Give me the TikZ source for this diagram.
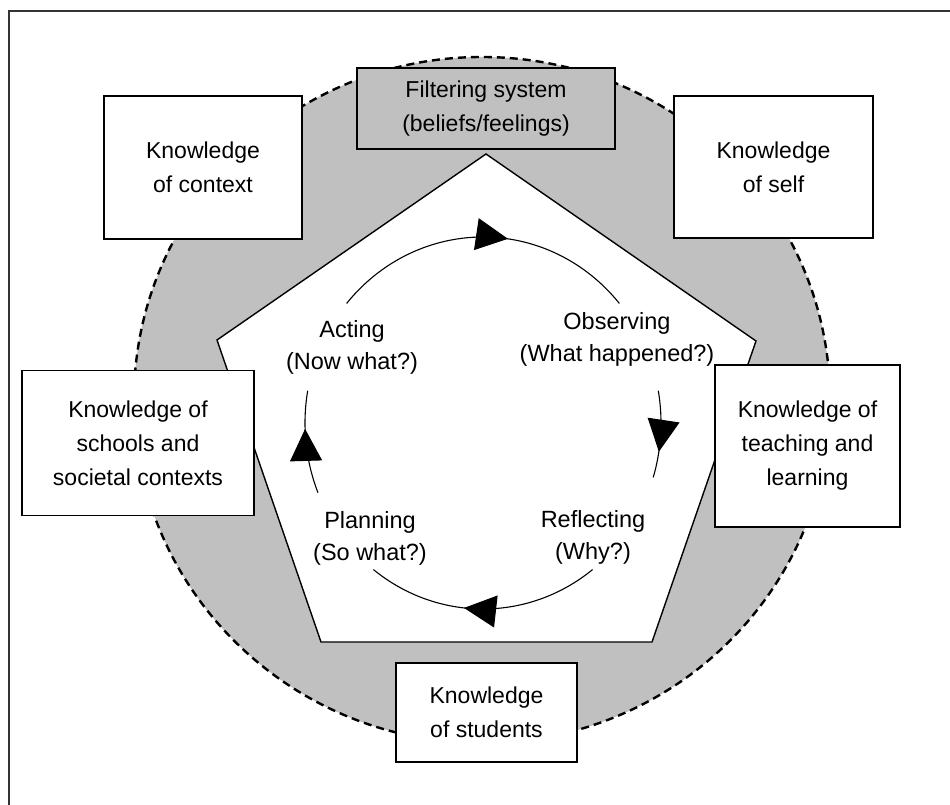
\documentclass[tikz,border=0pt]{standalone}
\usepackage{fontspec}
\setmainfont{Liberation Sans}
\usetikzlibrary{arrows.meta,decorations.markings}
\definecolor{fillgray}{RGB}{192,192,192}
\tikzset{
  kbox/.style={draw=black, line width=1.3pt, fill=white, align=center, inner sep=0pt,
    font=\fontsize{23}{34}\selectfont},
  cyclabel/.style={align=center, inner sep=0pt, font=\fontsize{23.5}{32}\selectfont},
  cycarc/.style={line width=1.1pt, postaction={decorate}},
  midarrow/.style={decoration={markings, mark=at position #1 with {\arrow{Triangle[length=32pt,width=32pt]}}}}
}
\begin{document}
\begin{tikzpicture}[x=1pt,y=1pt]
\useasboundingbox (0,0) rectangle (950,805);
% frame (left and top only, cropped)
\draw[black!80, line width=2pt] (9,0) -- (9,794) -- (950,794);
% gray dashed ellipse
\draw[fill=fillgray, line width=2.4pt, dash pattern=on 8pt off 5pt] (482,405) ellipse [x radius=348, y radius=343];
% pentagon
\draw[fill=white, line width=1.4pt, line join=miter] (486,651) -- (756,464) -- (652,163) -- (321,163) -- (217,465) -- cycle;
% boxes
\node[kbox, fill=fillgray, minimum width=258pt, minimum height=81pt] (filter) at (486,696.5) {Filtering system\\(beliefs/feelings)};
\node[kbox, minimum width=198pt, minimum height=143pt] (context) at (203,637.5) {Knowledge\\of context};
\node[kbox, minimum width=199pt, minimum height=142pt] (self) at (773.5,638) {Knowledge\\of self};
\node[kbox, minimum width=232pt, minimum height=145pt] (schools) at (138,362) {Knowledge of\\schools and\\societal contexts};
\node[kbox, minimum width=185pt, minimum height=162pt] (teaching) at (807.5,359) {Knowledge of\\teaching and\\learning};
\node[kbox, minimum width=181pt, minimum height=99pt] (students) at (486.5,92.5) {Knowledge\\of students};
% cycle labels
\node[cyclabel] (acting) at (352,458) {Acting\\(Now what?)};
\node[cyclabel] (observing) at (617,466) {Observing\\(What happened?)};
\node[cyclabel] (planning) at (370,267) {Planning\\(So what?)};
\node[cyclabel] (reflecting) at (593,268) {Reflecting\\(Why?)};
% cycle arcs
\coordinate (cc) at (483,382);
\tikzset{ell/.style={x radius=178, y radius=186}}
\draw[cycarc, midarrow=0.58] (cc) ++(140:178 and 186) arc[start angle=140, end angle=40, ell];
\draw[cycarc, midarrow=0.7] (cc) ++(10:178 and 186) arc[start angle=10, end angle=-17, ell];
\draw[cycarc, midarrow=0.58] (cc) ++(-52:178 and 186) arc[start angle=-52, end angle=-128, ell];
\draw[cycarc, midarrow=0.63] (cc) ++(202:178 and 186) arc[start angle=202, end angle=170, ell];
\end{tikzpicture}
\end{document}
